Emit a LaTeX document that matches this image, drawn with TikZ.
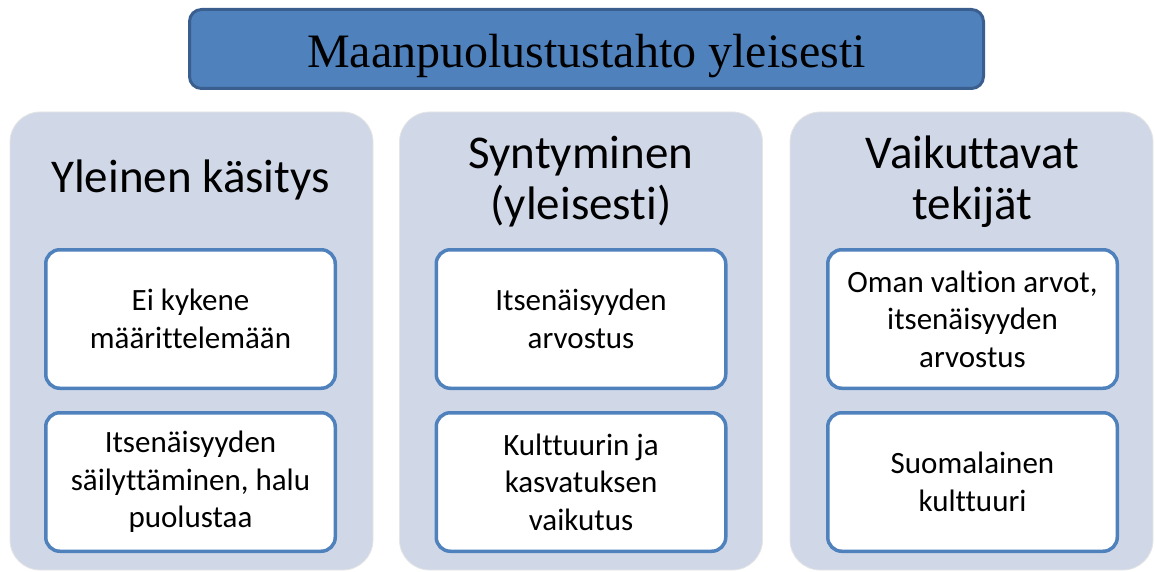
\documentclass[tikz,border=0pt]{standalone}
\usepackage{fontspec}
\setmainfont{Carlito}[Ligatures={NoCommon}]
\newfontfamily\titlefont{Liberation Serif}
\definecolor{titlefill}{HTML}{4F81BD}
\definecolor{titleline}{HTML}{3A5F8F}
\definecolor{colfill}{HTML}{D0D8E8}
\definecolor{boxline}{HTML}{4F81BD}
\tikzset{
  titlebox/.style={draw=titleline, line width=3pt, fill=titlefill, rounded corners=12pt,
    minimum width=794pt, minimum height=79pt, inner sep=0pt},
  titletext/.style={font=\titlefont\fontsize{48}{52}\selectfont, text=black, inner sep=0pt, anchor=base},
  column/.style={fill=colfill, draw=black!10, line width=0.8pt, rounded corners=30pt,
    minimum width=363pt, minimum height=458pt, inner sep=0pt},
  header/.style={align=center, font=\fontsize{47}{51}\selectfont, text=black, inner sep=0pt},
  itembox/.style={draw=boxline, line width=3.5pt, fill=white, rounded corners=14pt,
    minimum width=289.5pt, minimum height=138.5pt, inner sep=0pt, align=center,
    font=\fontsize{31}{37.5}\selectfont, text=black}
}
\begin{document}
\begin{tikzpicture}[x=1pt,y=-1pt]
\useasboundingbox (0,0) rectangle (1155,572);
\node[titlebox] (title) at (586.5,49) {};
\node[titletext] (titlelabel) at (586.5,68) {Maanpuolustustahto yleisesti};

\node[column] (col1) at (191.5,341) {};
\node[column] (col2) at (581,341) {};
\node[column] (col3) at (971.5,341) {};

\node[header] (h1) at (190.5,180) {Yleinen käsitys};
\node[header] (h2) at (581,182) {Syntyminen\\(yleisesti)};
\node[header] (h3) at (972.5,182) {Vaikuttavat\\tekijät};

\node[itembox] (b11) at (190.5,319) {Ei kykene\\määrittelemään};
\node[itembox] (b12) at (190.5,482) {Itsenäisyyden\\säilyttäminen, halu\\puolustaa};
\node[itembox] (b21) at (581,319) {Itsenäisyyden\\arvostus};
\node[itembox] (b22) at (581,482) {Kulttuurin ja\\kasvatuksen\\vaikutus};
\node[itembox] (b31) at (972.5,319) {Oman valtion arvot,\\itsenäisyyden\\arvostus};
\node[itembox] (b32) at (972.5,482) {Suomalainen\\kulttuuri};
\end{tikzpicture}
\end{document}
